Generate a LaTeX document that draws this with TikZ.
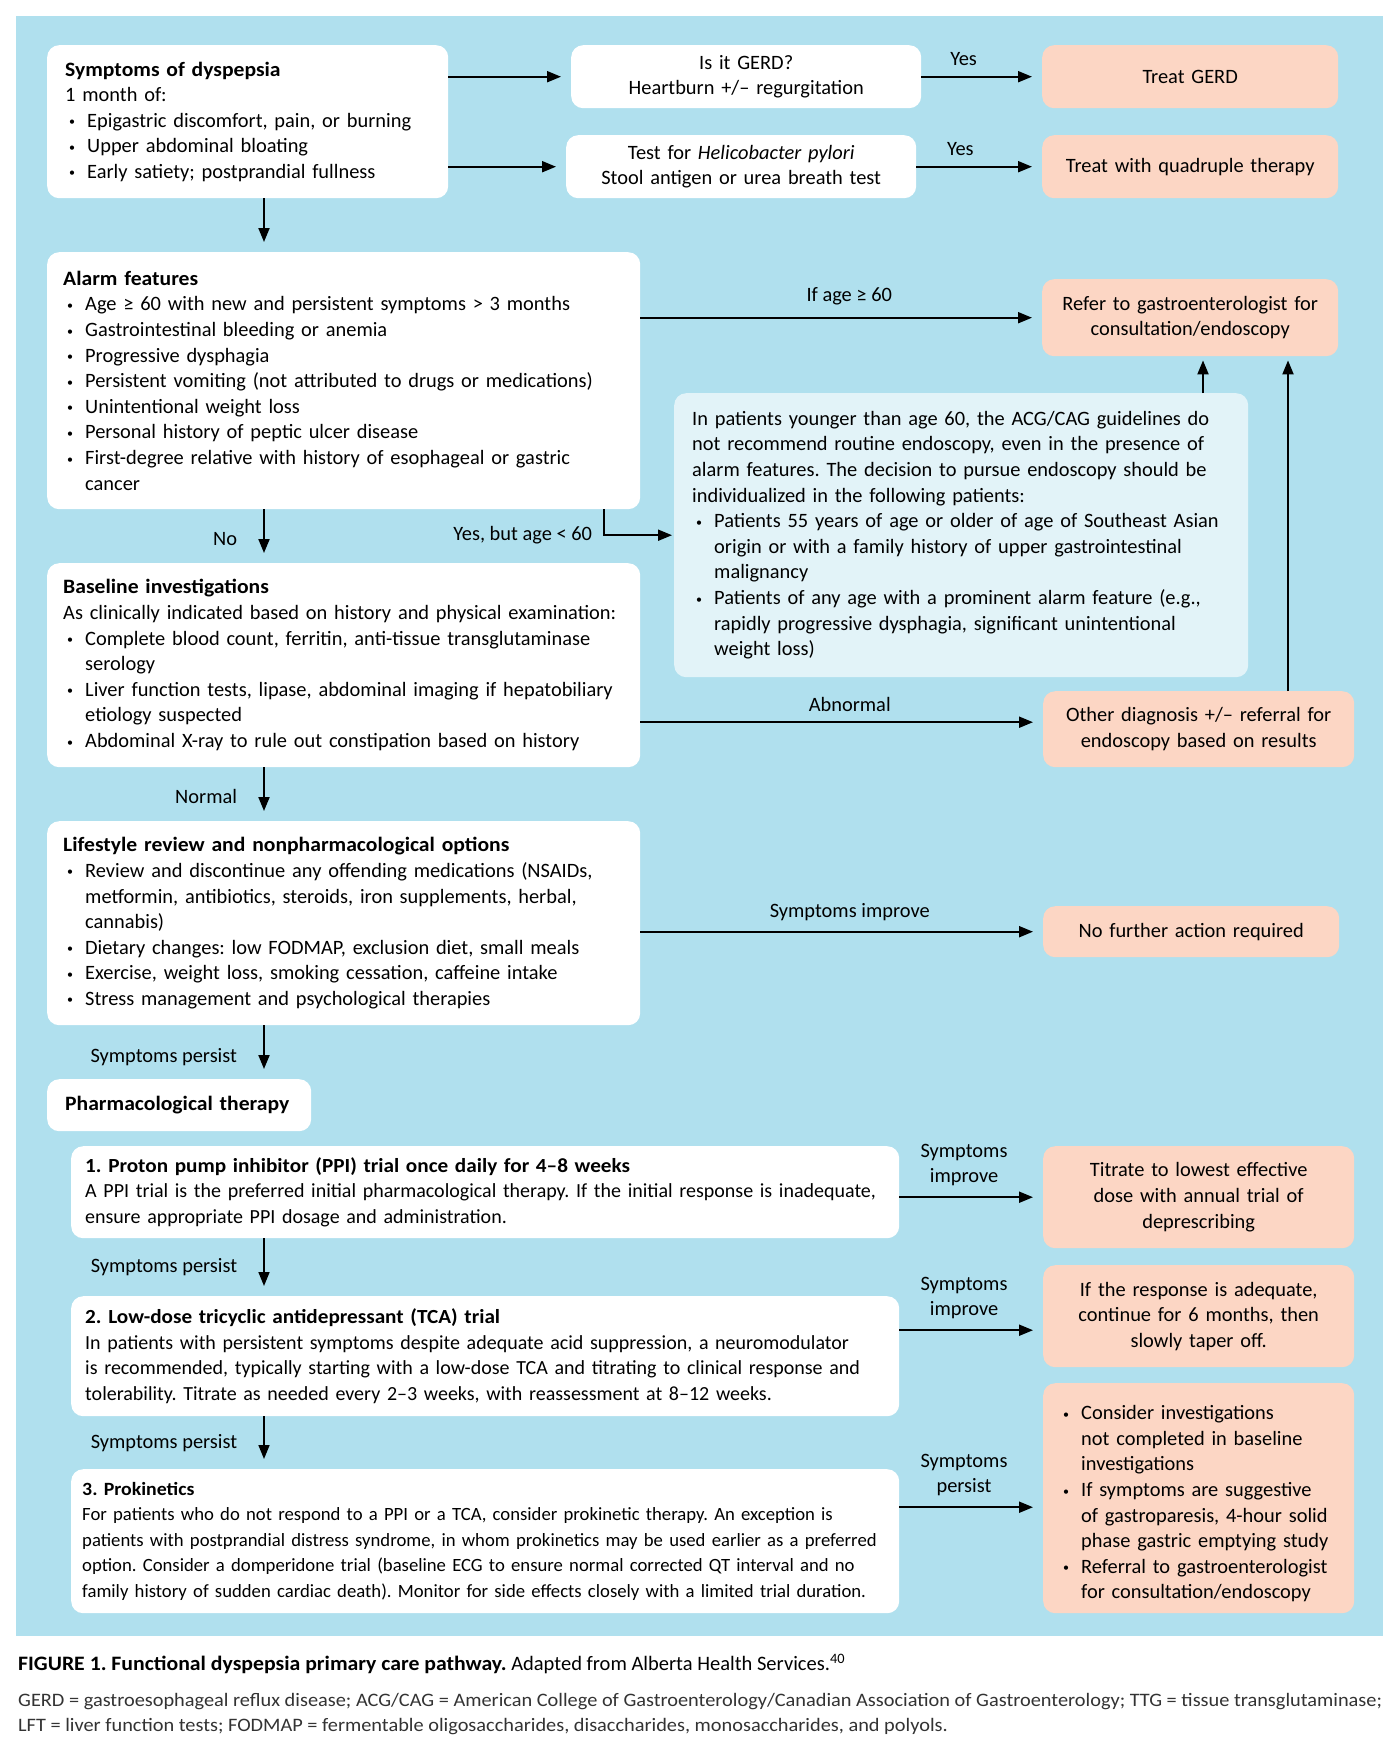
\documentclass[tikz,border=0pt]{standalone}
\usepackage{fontspec}
\setmainfont{Carlito}[BoldFeatures={FakeStretch=1.06}]
\newfontfamily\keyfont[FakeStretch=1.07]{Carlito}
\usetikzlibrary{arrows.meta}

\definecolor{bgblue}{RGB}{176,224,238}
\definecolor{salmon}{RGB}{252,214,196}
\definecolor{paleblue}{RGB}{226,243,248}

\newcommand\bitem{\par\noindent\hangindent=22pt\hangafter=1%
  \makebox[22pt][l]{\hspace{4pt}\raisebox{1.5pt}{\fontsize{12}{12}\selectfont\textbullet}}}

\tikzset{
  box/.style={fill=white, rounded corners=12pt, anchor=north west,
    inner xsep=18pt, inner ysep=0pt, align=left},
  widebox/.style={box, inner xsep=16pt, text width=561pt},
  stepbox/.style={box, inner xsep=14pt, text width=800pt},
  resbox/.style={box, fill=salmon, align=center},
  arr/.style={line width=2pt, -{Triangle[length=14pt,width=11pt]}, shorten >=10pt},
  thinarr/.style={arr, line width=1.6pt},
  lbl/.style={inner sep=0pt, align=center}
}

\begin{document}
\frenchspacing
\begin{tikzpicture}[x=1pt,y=-1pt,font=\fontsize{20.4}{25.6}\selectfont]
\useasboundingbox (0,0) rectangle (1400,1748);
\fill[white] (0,0) rectangle (1400,1748);
\fill[bgblue] (16,16) rectangle (1383,1636);

% column of the downward arrows and bends
\coordinate (spine) at (264,0);
\coordinate (bend) at (604,0);
\coordinate (up1) at (1203,0);
\coordinate (up2) at (1288,0);

% left column
\node[box, text width=365pt, minimum height=153pt] (sym) at (47,45) {%
  \textbf{Symptoms of dyspepsia}\\
  1 month of:
  \bitem Epigastric discomfort, pain, or burning
  \bitem Upper abdominal bloating
  \bitem Early satiety; postprandial fullness\par};

\node[widebox, minimum height=257pt] (alarm) at (47,252) {%
  \textbf{Alarm features}
  \bitem Age ≥ 60 with new and persistent symptoms > 3 months
  \bitem Gastrointestinal bleeding or anemia
  \bitem Progressive dysphagia
  \bitem Persistent vomiting (not attributed to drugs or medications)
  \bitem Unintentional weight loss
  \bitem Personal history of peptic ulcer disease
  \bitem First-degree relative with history of esophageal or gastric\newline cancer\par};

\node[widebox, minimum height=204pt] (base) at (47,563) {%
  \textbf{Baseline investigations}\\
  As clinically indicated based on history and physical examination:
  \bitem Complete blood count, ferritin, anti-tissue transglutaminase\newline serology
  \bitem Liver function tests, lipase, abdominal imaging if hepatobiliary\newline etiology suspected
  \bitem Abdominal X-ray to rule out constipation based on history\par};

\node[widebox, minimum height=204pt] (life) at (47,821) {%
  \textbf{Lifestyle review and nonpharmacological options}
  \bitem Review and discontinue any offending medications (NSAIDs,\newline metformin, antibiotics, steroids, iron supplements, herbal,\newline cannabis)
  \bitem Dietary changes: low FODMAP, exclusion diet, small meals
  \bitem Exercise, weight loss, smoking cessation, caffeine intake
  \bitem Stress management and psychological therapies\par};

\node[box, text width=228pt, minimum height=52pt] (pharm) at (47,1079) {\textbf{Pharmacological therapy}};

\node[stepbox, minimum height=92pt, font=\fontsize{20}{25.6}\selectfont] (ppi) at (71,1146) {%
  \textbf{1. Proton pump inhibitor (PPI) trial once daily for 4–8 weeks}\\
  A PPI trial is the preferred initial pharmacological therapy. If the initial response is inadequate,\\
  ensure appropriate PPI dosage and administration.};

\node[stepbox, minimum height=120pt, font=\fontsize{20}{25.6}\selectfont] (tca) at (71,1296) {%
  \textbf{2. Low-dose tricyclic antidepressant (TCA) trial}\\
  In patients with persistent symptoms despite adequate acid suppression, a neuromodulator\\
  is recommended, typically starting with a low-dose TCA and titrating to clinical response and\\
  tolerability. Titrate as needed every 2–3 weeks, with reassessment at 8–12 weeks.};

\node[stepbox, inner xsep=11pt, text width=806pt, minimum height=144pt, font=\fontsize{18.7}{25.6}\selectfont] (prok) at (71,1469) {%
  \textbf{3. Prokinetics}\\
  For patients who do not respond to a PPI or a TCA, consider prokinetic therapy. An exception is\\
  patients with postprandial distress syndrome, in whom prokinetics may be used earlier as a preferred\\
  option. Consider a domperidone trial (baseline ECG to ensure normal corrected QT interval and no\\
  family history of sudden cardiac death). Monitor for side effects closely with a limited trial duration.};

% middle column
\node[box, align=center, text width=314pt, minimum height=63pt] (gerd) at (571,45) {Is it GERD?\\Heartburn +/– regurgitation};
\node[box, align=center, text width=314pt, minimum height=63pt] (hp) at (566,135) {Test for \textit{Helicobacter pylori}\\Stool antigen or urea breath test};

\node[box, fill=paleblue, text width=538pt, minimum height=284pt] (note) at (674,393) {%
  In patients younger than age 60, the ACG/CAG guidelines do\\
  not recommend routine endoscopy, even in the presence of\\
  alarm features. The decision to pursue endoscopy should be\\
  individualized in the following patients:
  \bitem Patients 55 years of age or older of age of Southeast Asian\newline origin or with a family history of upper gastrointestinal\newline malignancy
  \bitem Patients of any age with a prominent alarm feature (e.g.,\newline rapidly progressive dysphagia, significant unintentional\newline weight loss)\par};

% right column
\node[resbox, text width=260pt, minimum height=63pt] (tgerd) at (1042,45) {Treat GERD};
\node[resbox, text width=260pt, minimum height=63pt] (tquad) at (1042,135) {Treat with quadruple therapy};
\node[resbox, text width=260pt, minimum height=77pt] (refer) at (1042,279) {Refer to gastroenterologist for\\consultation/endoscopy};
\node[resbox, text width=275pt, minimum height=76pt] (other) at (1043,691) {Other diagnosis +/– referral for\\endoscopy based on results};
\node[resbox, text width=260pt, minimum height=51pt] (nofurther) at (1043,906) {No further action required};
\node[resbox, text width=275pt, minimum height=102pt] (titrate) at (1043,1146) {Titrate to lowest effective\\dose with annual trial of\\deprescribing};
\node[resbox, text width=275pt, minimum height=102pt] (resp) at (1043,1265) {If the response is adequate,\\continue for 6 months, then\\slowly taper off.};
\node[resbox, align=left, inner xsep=16pt, text width=279pt, minimum height=230pt] (inv) at (1043,1383) {%
  \bitem Consider investigations\newline not completed in baseline\newline investigations
  \bitem If symptoms are suggestive\newline of gastroparesis, 4-hour solid\newline phase gastric emptying study
  \bitem Referral to gastroenterologist\newline for consultation/endoscopy\par};

% connectors
\draw[arr] (sym.east |- gerd.west) -- (gerd.west);
\draw[arr] (sym.east |- hp.west) -- (hp.west);
\draw[arr] (gerd.east) -- node[lbl, pos=0.35, above=10pt] {Yes} (tgerd.west);
\draw[arr] (hp.east |- tquad.west) -- node[lbl, pos=0.35, above=10pt] {Yes} (tquad.west);
\draw[arr] (sym.south -| spine) -- (alarm.north -| spine);
\draw[arr] (alarm.east |- refer.west) -- node[lbl, pos=0.52, above=12pt] {If age ≥ 60} (refer.west);
\draw[arr, shorten >=2pt] (alarm.south -| bend) |- node[lbl, pos=0.5, left=11pt] {Yes, but age < 60} (note.west);
\draw[arr] (alarm.south -| spine) -- node[lbl, pos=0.55, left=26pt] {No} (base.north -| spine);
\draw[arr, shorten >=4pt] (up1 |- note.north) -- (up1 |- refer.south);
\draw[arr, shorten >=4pt] (up2 |- other.north) -- (up2 |- refer.south);
\draw[arr] ([yshift=7pt]base.east |- other.west) -- node[lbl, pos=0.52, above=10pt] {Abnormal} ([yshift=7pt]other.west);
\draw[arr] (base.south -| spine) -- node[lbl, pos=0.55, left=26pt] {Normal} (life.north -| spine);
\draw[arr] (life.east |- nofurther.west) -- node[lbl, pos=0.52, above=10pt] {Symptoms improve} (nofurther.west);
\draw[arr] (life.south -| spine) -- node[lbl, pos=0.6, left=26pt] {Symptoms persist} (pharm.north -| spine);
\draw[arr] (ppi.east |- titrate.west) -- node[lbl, pos=0.45, above=10pt] {Symptoms\\improve} (titrate.west);
\draw[thinarr] (ppi.south -| spine) -- node[lbl, pos=0.5, left=26pt] {Symptoms persist} (tca.north -| spine);
\draw[arr] ([yshift=-14pt]tca.east |- resp.west) -- node[lbl, pos=0.45, above=10pt] {Symptoms\\improve} ([yshift=-14pt]resp.west);
\draw[thinarr] (tca.south -| spine) -- node[lbl, pos=0.5, left=26pt] {Symptoms persist} (prok.north -| spine);
\draw[arr] ([yshift=-9pt]prok.east |- inv.west) -- node[lbl, pos=0.45, above=10pt] {Symptoms\\persist} ([yshift=-9pt]inv.west);

% caption
\node[anchor=west, inner sep=0pt, font=\fontsize{20.5}{24}\selectfont] (cap) at (18,1664) {\textbf{FIGURE 1. Functional dyspepsia primary care pathway.} Adapted from Alberta Health Services.\textsuperscript{40}};
\node[anchor=west, inner sep=0pt, text=black!80, font=\keyfont\fontsize{19}{22}\selectfont] (key1) at (18,1702) {GERD = gastroesophageal reflux disease; ACG/CAG = American College of Gastroenterology/Canadian Association of Gastroenterology; TTG = tissue transglutaminase;};
\node[anchor=west, inner sep=0pt, text=black!80, font=\keyfont\fontsize{19}{22}\selectfont] (key2) at (18,1727) {LFT = liver function tests; FODMAP = fermentable oligosaccharides, disaccharides, monosaccharides, and polyols.};
\end{tikzpicture}
\end{document}
